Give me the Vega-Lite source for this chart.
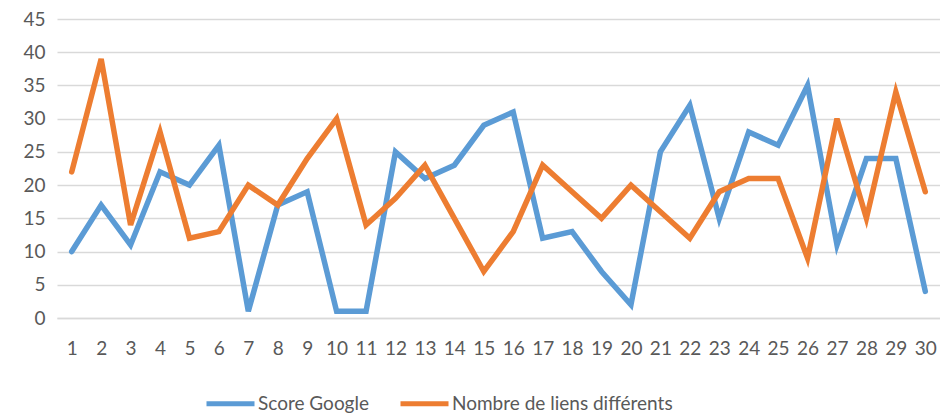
{
  "$schema": "https://vega.github.io/schema/vega-lite/v6.json",
  "width": 883,
  "height": 299,
  "autosize": {"type": "none"},
  "padding": {"left": 57, "top": 19, "right": 0, "bottom": 98},
  "background": "white",
  "config": {
    "view": {"stroke": null},
    "font": "Lato",
    "axis": {"labelFont": "Lato", "labelFontSize": 19, "labelColor": "#595959"},
    "legend": {
      "labelFont": "Lato",
      "labelFontSize": 19,
      "labelColor": "#595959",
      "labelLimit": 400
    }
  },
  "data": {
    "values": [
      {"x": 1, "serie": "Score Google", "v": 10},
      {"x": 2, "serie": "Score Google", "v": 17},
      {"x": 3, "serie": "Score Google", "v": 11},
      {"x": 4, "serie": "Score Google", "v": 22},
      {"x": 5, "serie": "Score Google", "v": 20},
      {"x": 6, "serie": "Score Google", "v": 26},
      {"x": 7, "serie": "Score Google", "v": 1},
      {"x": 8, "serie": "Score Google", "v": 17},
      {"x": 9, "serie": "Score Google", "v": 19},
      {"x": 10, "serie": "Score Google", "v": 1},
      {"x": 11, "serie": "Score Google", "v": 1},
      {"x": 12, "serie": "Score Google", "v": 25},
      {"x": 13, "serie": "Score Google", "v": 21},
      {"x": 14, "serie": "Score Google", "v": 23},
      {"x": 15, "serie": "Score Google", "v": 29},
      {"x": 16, "serie": "Score Google", "v": 31},
      {"x": 17, "serie": "Score Google", "v": 12},
      {"x": 18, "serie": "Score Google", "v": 13},
      {"x": 19, "serie": "Score Google", "v": 7},
      {"x": 20, "serie": "Score Google", "v": 2},
      {"x": 21, "serie": "Score Google", "v": 25},
      {"x": 22, "serie": "Score Google", "v": 32},
      {"x": 23, "serie": "Score Google", "v": 15},
      {"x": 24, "serie": "Score Google", "v": 28},
      {"x": 25, "serie": "Score Google", "v": 26},
      {"x": 26, "serie": "Score Google", "v": 35},
      {"x": 27, "serie": "Score Google", "v": 11},
      {"x": 28, "serie": "Score Google", "v": 24},
      {"x": 29, "serie": "Score Google", "v": 24},
      {"x": 30, "serie": "Score Google", "v": 4},
      {"x": 1, "serie": "Nombre de liens différents", "v": 22},
      {"x": 2, "serie": "Nombre de liens différents", "v": 39},
      {"x": 3, "serie": "Nombre de liens différents", "v": 14},
      {"x": 4, "serie": "Nombre de liens différents", "v": 28},
      {"x": 5, "serie": "Nombre de liens différents", "v": 12},
      {"x": 6, "serie": "Nombre de liens différents", "v": 13},
      {"x": 7, "serie": "Nombre de liens différents", "v": 20},
      {"x": 8, "serie": "Nombre de liens différents", "v": 17},
      {"x": 9, "serie": "Nombre de liens différents", "v": 24},
      {"x": 10, "serie": "Nombre de liens différents", "v": 30},
      {"x": 11, "serie": "Nombre de liens différents", "v": 14},
      {"x": 12, "serie": "Nombre de liens différents", "v": 18},
      {"x": 13, "serie": "Nombre de liens différents", "v": 23},
      {"x": 14, "serie": "Nombre de liens différents", "v": 15},
      {"x": 15, "serie": "Nombre de liens différents", "v": 7},
      {"x": 16, "serie": "Nombre de liens différents", "v": 13},
      {"x": 17, "serie": "Nombre de liens différents", "v": 23},
      {"x": 18, "serie": "Nombre de liens différents", "v": 19},
      {"x": 19, "serie": "Nombre de liens différents", "v": 15},
      {"x": 20, "serie": "Nombre de liens différents", "v": 20},
      {"x": 21, "serie": "Nombre de liens différents", "v": 16},
      {"x": 22, "serie": "Nombre de liens différents", "v": 12},
      {"x": 23, "serie": "Nombre de liens différents", "v": 19},
      {"x": 24, "serie": "Nombre de liens différents", "v": 21},
      {"x": 25, "serie": "Nombre de liens différents", "v": 21},
      {"x": 26, "serie": "Nombre de liens différents", "v": 9},
      {"x": 27, "serie": "Nombre de liens différents", "v": 30},
      {"x": 28, "serie": "Nombre de liens différents", "v": 15},
      {"x": 29, "serie": "Nombre de liens différents", "v": 34},
      {"x": 30, "serie": "Nombre de liens différents", "v": 19}
    ]
  },
  "mark": {"type": "line", "strokeWidth": 5.5, "strokeCap": "round", "strokeJoin": "miter"},
  "encoding": {
    "x": {
      "field": "x",
      "type": "ordinal",
      "scale": {"type": "point", "padding": 0.5},
      "axis": {
        "title": null,
        "labelAngle": 0,
        "ticks": false,
        "domain": true,
        "domainColor": "#d9d9d9",
        "domainWidth": 1.5,
        "labelPadding": 21,
        "grid": false
      }
    },
    "y": {
      "field": "v",
      "type": "quantitative",
      "scale": {"domain": [0, 45], "nice": false},
      "axis": {
        "title": null,
        "values": [0, 5, 10, 15, 20, 25, 30, 35, 40, 45],
        "ticks": false,
        "domain": false,
        "grid": true,
        "gridColor": "#d9d9d9",
        "gridWidth": 1.5,
        "labelPadding": 12
      }
    },
    "color": {
      "field": "serie",
      "type": "nominal",
      "sort": ["Score Google", "Nombre de liens différents"],
      "scale": {
        "domain": ["Score Google", "Nombre de liens différents"],
        "range": ["#5B9BD5", "#ED7D31"]
      },
      "legend": {
        "title": null,
        "orient": "none",
        "legendX": 147,
        "legendY": 358,
        "direction": "horizontal",
        "symbolType": "stroke",
        "symbolStrokeWidth": 5,
        "symbolSize": 2304,
        "columnPadding": 20,
        "labelOffset": 1
      }
    }
  }
}
